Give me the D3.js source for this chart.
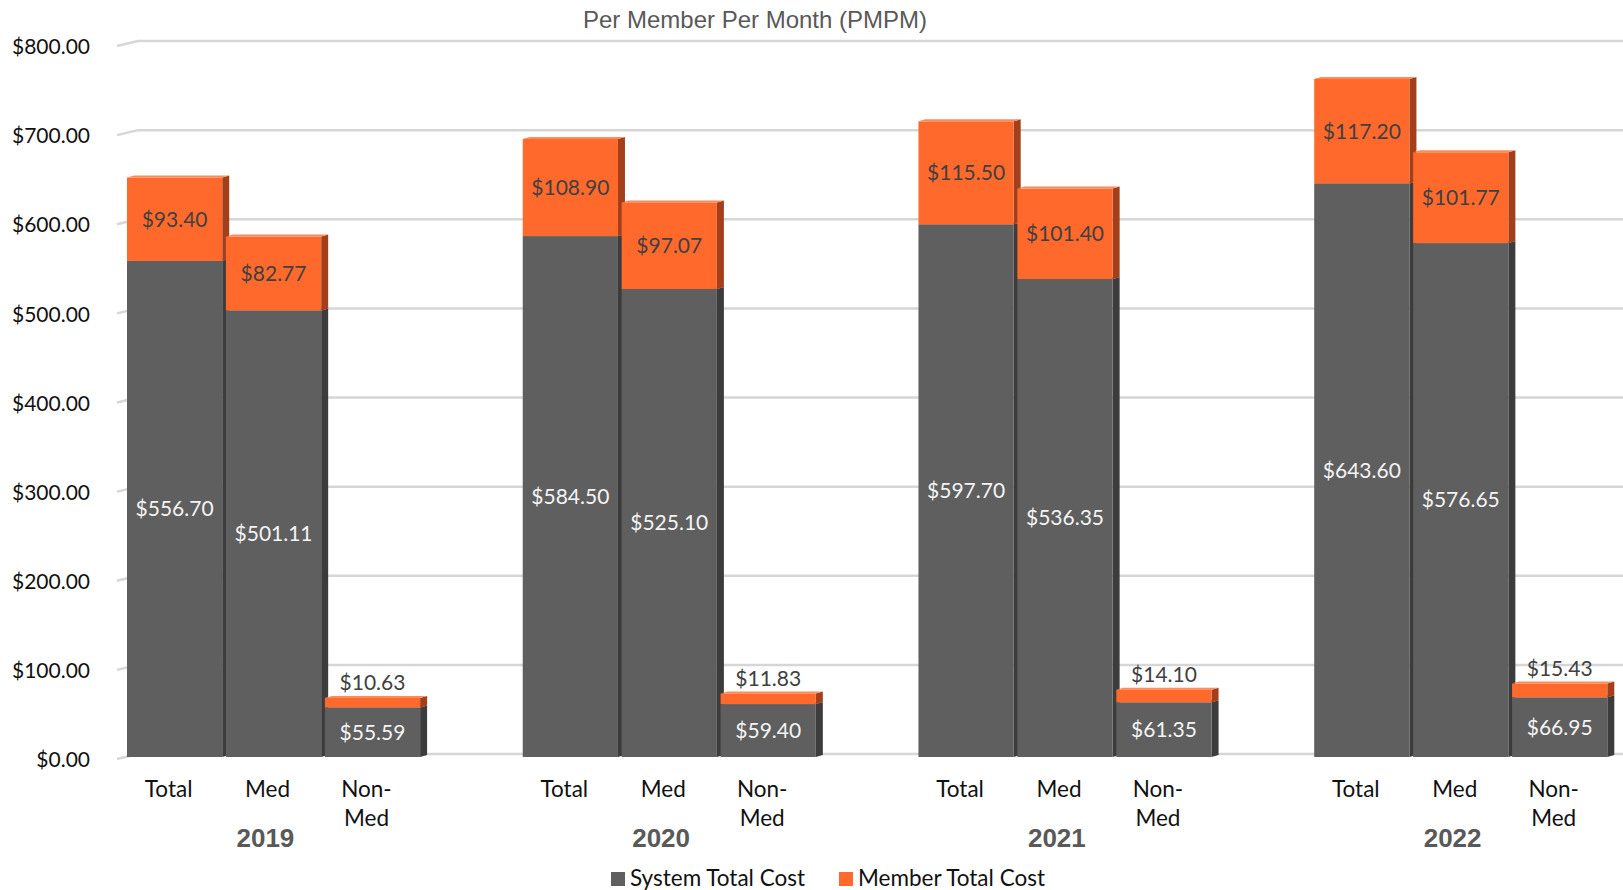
<!DOCTYPE html>
<html>
<head>
<meta charset="utf-8">
<script src="https://cdn.jsdelivr.net/npm/d3@7"></script>
<style>
  body { margin: 0; background: #fff; }
  svg text { font-family: Lato, "Noto Sans", sans-serif; }
</style>
</head>
<body>
<div id="chart"></div>
<script>
// Chart data
var years = ["2019", "2020", "2021", "2022"];
var categories = ["Total", "Med", "Non-Med"];
var systemCost = [
  [556.70, 501.11, 55.59],
  [584.50, 525.10, 59.40],
  [597.70, 536.35, 61.35],
  [643.60, 576.65, 66.95]
];
var memberCost = [
  [93.40, 82.77, 10.63],
  [108.90, 97.07, 11.83],
  [115.50, 101.40, 14.10],
  [117.20, 101.77, 15.43]
];
var yTicks = [0, 100, 200, 300, 400, 500, 600, 700, 800];
var seriesNames = ["System Total Cost", "Member Total Cost"];

var svgWidth = 1623;
var svgHeight = 890;

var grayFront = "#5f5f5f", graySide = "#3c3c3c", grayTop = "#7a7a7a";
var orangeFront = "#ff6a2c", orangeSide = "#a3401b", orangeTop = "#ff8a5a";
var depth = 7, rise = 2;

var svg = d3.select("#chart")
  .append("svg")
  .attr("width", svgWidth)
  .attr("height", svgHeight);

// front plane scale (bars) and back plane scale (gridlines)
var yFront = d3.scaleLinear().domain([0, 800]).range([757, 44]);
var yBack = d3.scaleLinear().domain([0, 800]).range([754, 41]);

var x0 = d3.scaleBand()
  .domain(years)
  .range([127, 1611])
  .paddingInner(0.25)
  .paddingOuter(0);
var x1 = d3.scaleBand()
  .domain(categories)
  .range([0, x0.bandwidth()])
  .padding(0);
var frontW = x1.bandwidth() - 3.7;

// Title
svg.append("text")
  .attr("x", 755)
  .attr("y", 28)
  .attr("text-anchor", "middle")
  .style("font-family", "'Liberation Sans', Arial, sans-serif")
  .style("font-size", "24px")
  .style("fill", "#595959")
  .text("Per Member Per Month (PMPM)");

// Gridlines with the small 3D floor stub at the left
var grid = svg.append("g");
yTicks.forEach(function(t) {
  grid.append("line")
    .attr("x1", 138).attr("x2", svgWidth)
    .attr("y1", yBack(t)).attr("y2", yBack(t))
    .attr("stroke", "#d6d6d6").attr("stroke-width", 2.5);
  grid.append("line")
    .attr("x1", 117).attr("x2", 138)
    .attr("y1", yBack(t) + 5).attr("y2", yBack(t))
    .attr("stroke", "#d6d6d6").attr("stroke-width", 2.5);
});

// Y axis labels
var leftAxis = d3.axisLeft(yFront)
  .tickValues(yTicks)
  .tickSize(0)
  .tickPadding(0)
  .tickFormat(function(d) { return "$" + d3.format(".2f")(d); });
var yAxisG = svg.append("g")
  .attr("transform", "translate(90, 3)")
  .call(leftAxis);
yAxisG.select(".domain").remove();
yAxisG.selectAll("text")
  .style("font-family", "Lato, sans-serif")
  .style("font-size", "21px")
  .style("fill", "#111");

// Draw one 3D bar segment
function drawBlock(g, x, yTop, yBottom, front, side, top) {
  g.append("polygon")
    .attr("points", [
      [x + frontW, yTop], [x + frontW + depth, yTop - rise],
      [x + frontW + depth, yBottom - rise], [x + frontW, yBottom]
    ].join(" "))
    .attr("fill", side);
  g.append("polygon")
    .attr("points", [
      [x, yTop], [x + depth, yTop - rise],
      [x + frontW + depth, yTop - rise], [x + frontW, yTop]
    ].join(" "))
    .attr("fill", top);
  g.append("rect")
    .attr("x", x).attr("y", yTop)
    .attr("width", frontW).attr("height", yBottom - yTop)
    .attr("fill", front);
}

var money = function(v) { return "$" + d3.format(".2f")(v); };

var bars = svg.append("g");
var labels = svg.append("g");

years.forEach(function(yr, i) {
  categories.forEach(function(cat, j) {
    var x = x0(yr) + x1(cat);
    var s = systemCost[i][j];
    var m = memberCost[i][j];
    var ySys = yFront(s);
    var yTot = yFront(s + m);

    var g = bars.append("g");
    drawBlock(g, x, ySys, yFront(0), grayFront, graySide, grayTop);
    drawBlock(g, x, yTot, ySys, orangeFront, orangeSide, orangeTop);

    var cx = x + frontW / 2;
    labels.append("text")
      .attr("x", cx)
      .attr("y", (ySys + yFront(0)) / 2)
      .attr("dy", "0.35em")
      .attr("text-anchor", "middle")
      .style("font-size", "21px")
      .style("fill", "#f4f4f4")
      .text(money(s));

    var small = (ySys - yTot) < 28;
    labels.append("text")
      .attr("x", cx)
      .attr("y", small ? yTot - 15 : (yTot + ySys) / 2)
      .attr("dy", "0.35em")
      .attr("text-anchor", "middle")
      .style("font-size", "21px")
      .style("fill", "#404040")
      .text(money(m));
  });
});

// Category labels
var catG = svg.append("g");
years.forEach(function(yr) {
  categories.forEach(function(cat) {
    var cx = x0(yr) + x1(cat) + frontW / 2 - 6;
    var t = catG.append("text")
      .attr("x", cx)
      .attr("y", 797)
      .attr("text-anchor", "middle")
      .style("font-size", "22.5px")
      .style("fill", "#111");
    var parts = cat === "Non-Med" ? ["Non-", "Med"] : [cat];
    parts.forEach(function(p, k) {
      t.append("tspan")
        .attr("x", cx)
        .attr("dy", k === 0 ? 0 : 29)
        .text(p);
    });
  });
  svg.append("text")
    .attr("x", x0(yr) + x0.bandwidth() / 2 - 10)
    .attr("y", 847)
    .attr("text-anchor", "middle")
    .style("font-family", "'Liberation Sans', Arial, sans-serif")
    .style("font-weight", "bold")
    .style("font-size", "26px")
    .style("fill", "#595959")
    .text(yr);
});

// Legend
var legendColors = [grayFront, orangeFront];
var legendX = [611, 839];
var legend = svg.append("g");
seriesNames.forEach(function(name, i) {
  legend.append("rect")
    .attr("x", legendX[i]).attr("y", 872)
    .attr("width", 14).attr("height", 14)
    .attr("fill", legendColors[i]);
  legend.append("text")
    .attr("x", legendX[i] + 19)
    .attr("y", 886)
    .style("font-size", "22.5px")
    .style("fill", "#111")
    .text(name);
});
</script>
</body>
</html>
